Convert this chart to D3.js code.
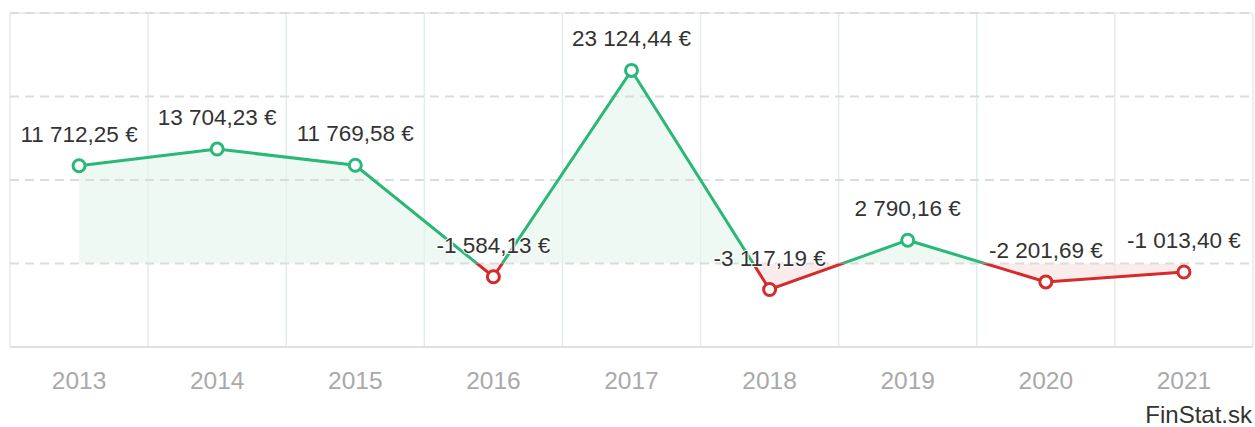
<!DOCTYPE html>
<html>
<head>
<meta charset="utf-8">
<script src="https://cdn.jsdelivr.net/npm/d3@7/dist/d3.min.js"></script>
<style>
  html, body { margin: 0; padding: 0; background: #fff; }
  svg { display: block; font-family: "Liberation Sans", Arial, sans-serif; }
</style>
</head>
<body>
<script>
// zisk po rokoch
let years = ['2013', '2014', '2015', '2016', '2017', '2018', '2019', '2020', '2021']
let values = [11712.25, 13704.23, 11769.58, -1584.13, 23124.44, -3117.19, 2790.16, -2201.69, -1013.40]
let yTicks = [-10000, 0, 10000, 20000, 30000]

let W = 1255
let H = 427
let plotLeft = 10, plotRight = 1253, plotTop = 13, plotBottom = 347

let green = '#29b878'
let red = '#d52b2b'

let x = d3.scaleBand().domain(years).range([plotLeft, plotRight]).padding(0)
let y = d3.scaleLinear().domain([-10000, 30000]).range([plotBottom, plotTop])
let y0 = y(0)

let sk = d3.formatLocale({ decimal: ',', thousands: '\u00a0', grouping: [3], currency: ['', ' €'], minus: '-' })
let fmt = sk.format(',.2f')

let svg = d3.select('body').append('svg')
  .attr('width', W)
  .attr('height', H)

let defs = svg.append('defs')
defs.append('clipPath').attr('id', 'above')
  .append('rect').attr('x', 0).attr('y', 0).attr('width', W).attr('height', y0)
defs.append('clipPath').attr('id', 'below')
  .append('rect').attr('x', 0).attr('y', y0).attr('width', W).attr('height', H - y0)

// ramik grafu
svg.append('rect')
  .attr('x', plotLeft).attr('y', plotTop)
  .attr('width', plotRight - plotLeft).attr('height', plotBottom - plotTop)
  .attr('rx', 3)
  .attr('fill', 'none')
  .attr('stroke', '#e3ecec')
  .attr('stroke-width', 1.5)

// vertikalne mriezky medzi rokmi
svg.append('g').selectAll('line')
  .data(years.slice(1))
  .enter().append('line')
  .attr('x1', d => x(d)).attr('x2', d => x(d))
  .attr('y1', plotTop).attr('y2', plotBottom)
  .attr('stroke', '#e3ecec')
  .attr('stroke-width', 1.5)

// plochy
let data = years.map((d, i) => ({ year: d, value: values[i] }))
let cx = d => x(d.year) + x.bandwidth() / 2

let area = d3.area().x(cx).y0(y0).y1(d => y(d.value))
let line = d3.line().x(cx).y(d => y(d.value))

svg.append('path').datum(data)
  .attr('d', area)
  .attr('fill', '#e4f5ec').attr('fill-opacity', 0.6)
  .attr('clip-path', 'url(#above)')
svg.append('path').datum(data)
  .attr('d', area)
  .attr('fill', '#f8e0e0').attr('fill-opacity', 0.6)
  .attr('clip-path', 'url(#below)')

// horizontalne ciarkovane mriezky
svg.append('g').selectAll('line')
  .data(yTicks.slice(1))
  .enter().append('line')
  .attr('x1', plotLeft).attr('x2', plotRight)
  .attr('y1', d => y(d)).attr('y2', d => y(d))
  .attr('stroke', '#dcdcdc')
  .attr('stroke-width', 2)
  .attr('stroke-dasharray', '9,6')

// spodna os
svg.append('line')
  .attr('x1', plotLeft).attr('x2', plotRight)
  .attr('y1', plotBottom).attr('y2', plotBottom)
  .attr('stroke', '#e0e0e0')
  .attr('stroke-width', 2)

// ciara - zelena nad nulou, cervena pod nulou
svg.append('path').datum(data)
  .attr('d', line)
  .attr('fill', 'none').attr('stroke', green).attr('stroke-width', 3)
  .attr('clip-path', 'url(#above)')
svg.append('path').datum(data)
  .attr('d', line)
  .attr('fill', 'none').attr('stroke', red).attr('stroke-width', 3)
  .attr('clip-path', 'url(#below)')

// body
svg.append('g').selectAll('circle')
  .data(data)
  .enter().append('circle')
  .attr('cx', cx)
  .attr('cy', d => y(d.value))
  .attr('r', 6)
  .attr('fill', '#fff')
  .attr('stroke', d => d.value >= 0 ? green : red)
  .attr('stroke-width', 3)

// popisky hodnot
svg.append('g').selectAll('text')
  .data(data)
  .enter().append('text')
  .attr('x', cx)
  .attr('y', d => y(d.value) - 24)
  .attr('text-anchor', 'middle')
  .attr('font-size', 22.5)
  .attr('fill', '#333')
  .attr('stroke', '#fff')
  .attr('stroke-width', 2)
  .attr('stroke-linejoin', 'round')
  .attr('paint-order', 'stroke')
  .text(d => fmt(d.value) + ' €')

// roky
svg.append('g').selectAll('text')
  .data(years)
  .enter().append('text')
  .attr('x', d => x(d) + x.bandwidth() / 2)
  .attr('y', 389)
  .attr('text-anchor', 'middle')
  .attr('font-size', 24.5)
  .attr('fill', '#a9a9a9')
  .text(d => d)

svg.append('text')
  .attr('x', 1252)
  .attr('y', 423)
  .attr('text-anchor', 'end')
  .attr('font-size', 24)
  .attr('fill', '#333')
  .text('FinStat.sk')
</script>
</body>
</html>
